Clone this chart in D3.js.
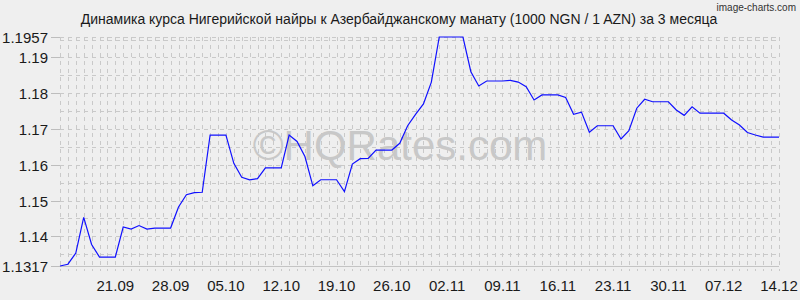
<!DOCTYPE html>
<html>
<head>
<meta charset="utf-8">
<script src="https://cdn.jsdelivr.net/npm/d3@7"></script>
<style>
  html, body { margin: 0; padding: 0; background: #efefef; }
  text { font-family: "Liberation Sans", Arial, sans-serif; }
</style>
</head>
<body>
<div id="chart"></div>
<script>
// chart data: one value per day, 14.09 .. 14.12
const startDay = '14.09.2023';
const endDay = '14.12.2023';
const rates = [
  1.1317, 1.1322, 1.1353, 1.1453, 1.1377, 1.1342, 1.1342, 1.1342, 1.1426, 1.1420,
  1.1430, 1.1420, 1.1423, 1.1423, 1.1423, 1.1482, 1.1516, 1.1522, 1.1523, 1.1683,
  1.1683, 1.1683, 1.1604, 1.1565, 1.1558, 1.1561, 1.1591, 1.1591, 1.1591, 1.1683,
  1.1665, 1.1623, 1.1541, 1.1558, 1.1558, 1.1558, 1.1525, 1.1602, 1.1617, 1.1618,
  1.1641, 1.1641, 1.1641, 1.1660, 1.1709, 1.1741, 1.1770, 1.1831, 1.1957, 1.1957,
  1.1957, 1.1957, 1.1860, 1.1820, 1.1834, 1.1834, 1.1834, 1.1836, 1.1831, 1.1818,
  1.1781, 1.1795, 1.1795, 1.1795, 1.1788, 1.1741, 1.1747, 1.1691, 1.1709, 1.1709,
  1.1709, 1.1672, 1.1695, 1.1758, 1.1783, 1.1776, 1.1776, 1.1776, 1.1753, 1.1738,
  1.1762, 1.1744, 1.1744, 1.1744, 1.1744, 1.1725, 1.1711, 1.1690, 1.1683, 1.1677,
  1.1677, 1.1677
];
const xTickLabels = ['21.09', '28.09', '05.10', '12.10', '19.10', '26.10', '02.11',
  '09.11', '16.11', '23.11', '30.11', '07.12', '14.12'];
const yTickLabels = ['1.1317', '1.14', '1.15', '1.16', '1.17', '1.18', '1.19', '1.1957'];
const yMin = 1.1317, yMax = 1.1957;

const width = 800, height = 300;
const margin = {top: 37, right: 21, bottom: 34, left: 60};

const parseDay = d3.timeParse('%d.%m.%Y');
const first = parseDay(startDay), last = parseDay(endDay);
const days = d3.timeDay.range(first, d3.timeDay.offset(last, 1));
const data = days.map(function(d, i) { return {date: d, value: rates[i]}; });

const svg = d3.select('#chart').append('svg')
  .attr('width', width)
  .attr('height', height)
  .style('display', 'block');

svg.append('rect').attr('width', width).attr('height', height).attr('fill', '#efefef');

const x = d3.scaleTime()
  .domain([first, last])
  .range([margin.left, width - margin.right]);

const y = d3.scaleLinear()
  .domain([yMin, yMax])
  .range([height - margin.bottom, margin.top]);

// grid
const grid = svg.append('g').attr('stroke', '#c9c9c9').attr('stroke-width', 1);

grid.selectAll('.vgrid').data(days)
  .enter().append('line').classed('vgrid', true)
  .attr('x1', function(d) { return Math.round(x(d)) + 0.5; })
  .attr('x2', function(d) { return Math.round(x(d)) + 0.5; })
  .attr('y1', y(yMax))
  .attr('y2', y(yMin) + 5)
  .attr('stroke-dasharray', '4,4');

const hSteps = d3.range(Math.ceil(yMin / 0.005), Math.floor(yMax / 0.005) + 1)
  .map(function(k) { return k * 0.005; });
grid.selectAll('.hgrid').data(hSteps.concat([yMax]))
  .enter().append('line').classed('hgrid', true)
  .attr('x1', x(first))
  .attr('x2', x(last))
  .attr('y1', function(d) { return Math.round(y(d)) + 0.5; })
  .attr('y2', function(d) { return Math.round(y(d)) + 0.5; })
  .attr('stroke-dasharray', '4,4');

// bottom axis line
svg.append('line')
  .attr('x1', x(first)).attr('x2', x(last))
  .attr('y1', Math.round(y(yMin)) + 0.5).attr('y2', Math.round(y(yMin)) + 0.5)
  .attr('stroke', '#c4c4c4');

// y ticks + labels
const yTicks = svg.append('g');
yTickLabels.forEach(function(t) {
  const yy = Math.round(y(+t)) + 0.5;
  yTicks.append('line')
    .attr('x1', margin.left - 9).attr('x2', margin.left)
    .attr('y1', yy).attr('y2', yy)
    .attr('stroke', '#bdbdbd');
  yTicks.append('text')
    .attr('x', margin.left - 12)
    .attr('y', yy)
    .attr('dy', '0.36em')
    .attr('text-anchor', 'end')
    .attr('font-size', 15)
    .attr('fill', '#1a1a1a')
    .text(t);
});

// x labels
svg.append('g').selectAll('.xlab').data(xTickLabels)
  .enter().append('text').classed('xlab', true)
  .attr('x', function(d) {
    const p = d.split('.');
    const yr = +p[1] >= 9 ? 2023 : 2024;
    return x(parseDay(d + '.' + yr));
  })
  .attr('y', 291)
  .attr('text-anchor', 'middle')
  .attr('font-size', 15)
  .attr('fill', '#1a1a1a')
  .text(function(d) { return d; });

// watermark
svg.append('text')
  .attr('x', 400).attr('y', 160)
  .attr('text-anchor', 'middle')
  .attr('font-size', 42)
  .attr('fill', '#c8c8c8')
  .text('\u00A9HQRates.com');

// line
const line = d3.line()
  .x(function(d) { return x(d.date); })
  .y(function(d) { return y(d.value); });

svg.append('path')
  .datum(data)
  .attr('d', line)
  .attr('fill', 'none')
  .attr('stroke', '#1010ff')
  .attr('stroke-width', 1.2);

// title
svg.append('text')
  .attr('x', 399).attr('y', 24)
  .attr('text-anchor', 'middle')
  .attr('font-size', 14)
  .attr('fill', '#1a1a1a')
  .text('Динамика курса Нигерийской найры к Азербайджанскому манату (1000 NGN / 1 AZN) за 3 месяца');

svg.append('text')
  .attr('x', 796).attr('y', 11)
  .attr('text-anchor', 'end')
  .attr('font-size', 10)
  .attr('font-family', '"DejaVu Sans Condensed", "DejaVu Sans", sans-serif')
  .attr('fill', '#333')
  .text('image-charts.com');
</script>
</body>
</html>
